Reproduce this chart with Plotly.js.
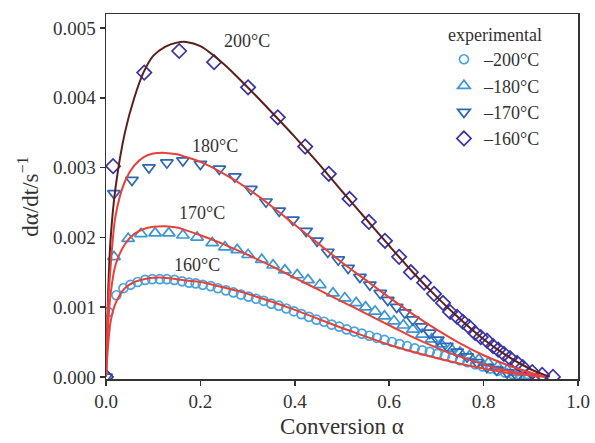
<!DOCTYPE html>
<html><head><meta charset="utf-8">
<script src="https://cdn.plot.ly/plotly-3.0.1.min.js"></script>
<style>html,body{margin:0;padding:0;background:#fff}#c{width:595px;height:443px}</style>
</head><body><div id="c"></div>
<script>
// Experimental data (α, dα/dt)
const circAlpha = [0.005,0.022,0.037,0.052,0.067,0.083,0.098,0.114,0.129,0.145,0.161,0.176,0.19,0.205,0.222,0.237,0.254,0.27,0.286,0.302,0.318,0.334,0.35,0.366,0.382,0.398,0.414,0.43,0.446,0.462,0.478,0.494,0.51,0.526,0.542,0.558,0.574,0.59,0.606,0.622,0.638,0.654,0.67,0.686,0.702,0.718,0.734,0.75,0.766,0.782,0.798,0.814,0.83,0.846,0.862,0.878,0.894];
const circRate = [0.00093,0.00117,0.00127,0.00132,0.00136,0.00139,0.0014,0.0014,0.0014,0.00139,0.00137,0.00135,0.00134,0.00132,0.0013,0.00127,0.00124,0.00121,0.00118,0.00115,0.00112,0.00109,0.00105,0.00102,0.00098,0.00094,0.0009,0.00086,0.00082,0.00079,0.00075,0.00072,0.00068,0.00065,0.00062,0.00059,0.00056,0.00053,0.0005,0.00047,0.00044,0.00041,0.00038,0.00036,0.00033,0.0003,0.00027,0.00024,0.00021,0.00018,0.00015,0.00012,0.00009,0.00006,0.00004,0.00002,0.00001];

const triUpAlpha = [0.017,0.047,0.074,0.104,0.133,0.163,0.193,0.225,0.252,0.278,0.301,0.33,0.354,0.379,0.405,0.428,0.453,0.481,0.506,0.53,0.55,0.57,0.59,0.61,0.63,0.65,0.67,0.69,0.71,0.73,0.75,0.77,0.79,0.81,0.83,0.85,0.87,0.89];
const triUpRate = [0.00172,0.00198,0.00205,0.00206,0.00206,0.00203,0.002,0.00192,0.00186,0.00182,0.00175,0.00168,0.0016,0.00153,0.00146,0.00139,0.00132,0.0012,0.00113,0.00106,0.001,0.00094,0.00087,0.0008,0.00074,0.00068,0.00061,0.00054,0.00047,0.00041,0.00035,0.0003,0.00025,0.0002,0.00015,0.0001,0.00006,0.00002];

const triDownAlpha = [0.0,0.017,0.055,0.091,0.129,0.163,0.2,0.24,0.273,0.307,0.339,0.367,0.396,0.424,0.447,0.47,0.492,0.513,0.538,0.559,0.581,0.597,0.616,0.633,0.65,0.669,0.686,0.703,0.722,0.744,0.765,0.786,0.807,0.828,0.85,0.871];
const triDownRate = [0.0,0.00263,0.00282,0.003,0.00307,0.0031,0.00305,0.00298,0.00287,0.00269,0.00251,0.00238,0.00225,0.00209,0.00195,0.00179,0.00168,0.00156,0.00143,0.00132,0.0012,0.0011,0.001,0.00092,0.00082,0.00072,0.00063,0.00053,0.00044,0.00036,0.00029,0.00021,0.00014,0.0001,0.00006,0.00001];

const diaAlpha = [0.0,0.015,0.081,0.155,0.229,0.301,0.364,0.422,0.472,0.516,0.557,0.591,0.621,0.646,0.674,0.695,0.714,0.729,0.744,0.756,0.769,0.782,0.794,0.807,0.82,0.831,0.843,0.856,0.871,0.883,0.903,0.924,0.947];
const diaRate = [0.0,0.00302,0.00436,0.00467,0.00451,0.00415,0.00372,0.0033,0.00291,0.00255,0.00222,0.00195,0.00172,0.0015,0.00135,0.00119,0.00106,0.00093,0.00086,0.00079,0.00072,0.00063,0.00057,0.00052,0.00044,0.00039,0.00033,0.00027,0.0002,0.00014,0.00007,0.00003,0.0];

// Fitted (model) curves
const fitAlpha = [0,0.005,0.01,0.02,0.04,0.06,0.08,0.10,0.125,0.15,0.17,0.20,0.25,0.30,0.35,0.40,0.45,0.50,0.55,0.60,0.65,0.70,0.75,0.80,0.85,0.90];
const fit200 = [0,0.0013,0.002,0.0027,0.0035,0.0040,0.00437,0.0046,0.00473,0.00479,0.0048,0.00474,0.00448,0.00415,0.0038,0.00344,0.00306,0.00266,0.00227,0.00188,0.0015,0.00115,0.00083,0.00054,0.0003,0.00011];
const fit180 = [0,0.0011,0.0016,0.0023,0.0028,0.00303,0.00315,0.0032,0.00321,0.00319,0.00315,0.00308,0.00291,0.0027,0.00245,0.00218,0.00191,0.00164,0.00139,0.00114,0.0009,0.00068,0.00048,0.00031,0.00017,0.00006];
const fit170 = [0,0.0008,0.0012,0.0016,0.0019,0.00205,0.00212,0.00215,0.00216,0.00214,0.0021,0.00203,0.0019,0.00175,0.00159,0.00142,0.00125,0.00108,0.00091,0.00074,0.00057,0.00042,0.00029,0.00018,0.00009,0.00003];
const fit160 = [0,0.0005,0.0008,0.00105,0.00127,0.00136,0.0014,0.00142,0.00142,0.0014,0.00138,0.00136,0.00128,0.00119,0.00108,0.00096,0.00083,0.0007,0.00058,0.00046,0.00036,0.00027,0.00019,0.00012,0.00006,0.00002];
const fitEndAlpha = [0.94,0.93,0.93,0.92];

const legendNames = ['\u2013200\u00b0C','\u2013180\u00b0C','\u2013170\u00b0C','\u2013160\u00b0C'];
const curveLabels = ['200\u00b0C','180\u00b0C','170\u00b0C','160\u00b0C'];
const labelX = [0.299,0.231,0.203,0.193];
const labelY = [0.00481,0.00331,0.00235,0.0016];

const serif = 'Liberation Serif, Times New Roman, serif';
const mk = (x,y,name,symbol,color,size) => ({x:x,y:y,name:name,type:'scatter',mode:'markers',
  marker:{symbol:symbol,size:size,color:color,line:{color:color,width:1.7}},showlegend:true});
const ln = (y,endA,color) => ({x:fitAlpha.concat([endA]),y:y.concat([0]),type:'scatter',mode:'lines',
  line:{color:color,width:2,shape:'spline',smoothing:0.8},showlegend:false,hoverinfo:'skip'});

const data = [
  mk(circAlpha,circRate,legendNames[0],'circle-open','#4aa3dd',9),
  mk(triUpAlpha,triUpRate,legendNames[1],'triangle-up-open','#3a97d6',11),
  mk(triDownAlpha,triDownRate,legendNames[2],'triangle-down-open','#2f66b4',11),
  mk(diaAlpha,diaRate,legendNames[3],'diamond-open','#3b33a3',11),
  ln(fit200,fitEndAlpha[0],'#5b1f1c'),
  ln(fit180,fitEndAlpha[1],'#e8413a'),
  ln(fit170,fitEndAlpha[2],'#e8413a'),
  ln(fit160,fitEndAlpha[3],'#e8413a')
];

const annotations = curveLabels.map((t,i)=>({x:labelX[i],y:labelY[i],xref:'x',yref:'y',text:t,showarrow:false,
  font:{family:serif,size:18,color:'#333'}}));

const layout = {
  width:595,height:443,
  margin:{l:106,r:17,t:14,b:64},
  paper_bgcolor:'#fff',plot_bgcolor:'#fff',
  font:{family:serif,size:18,color:'#333'},
  xaxis:{range:[0,1],dtick:0.2,tickformat:'.1f',ticks:'outside',ticklen:5,tickwidth:1.5,tickcolor:'#333',
    showline:true,mirror:true,linecolor:'#333',linewidth:1.5,showgrid:false,zeroline:false,
    tickfont:{family:serif,size:19,color:'#333'},
    title:{text:'Conversion \u03b1',font:{family:serif,size:23,color:'#333'},standoff:6}},
  yaxis:{range:[-0.00003,0.0052],dtick:0.001,tickformat:'.3f',ticks:'outside',ticklen:5,tickwidth:1.5,tickcolor:'#333',
    showline:true,mirror:true,linecolor:'#333',linewidth:1.5,showgrid:false,zeroline:false,
    tickfont:{family:serif,size:19,color:'#333'},
    title:{text:'d\u03b1/dt/s<sup>\u22121</sup>',font:{family:serif,size:23,color:'#333'},standoff:8}},
  legend:{x:0.716,y:0.99,xanchor:'left',yanchor:'top',bgcolor:'rgba(255,255,255,0)',borderwidth:0,
    font:{family:serif,size:18,color:'#333'},itemwidth:30,tracegroupgap:0,
    title:{text:'experimental',side:'top center',font:{family:serif,size:18,color:'#333'}}},
  annotations:annotations
};

Plotly.newPlot('c',data,layout,{displayModeBar:false,staticPlot:true});
</script>
</body></html>
